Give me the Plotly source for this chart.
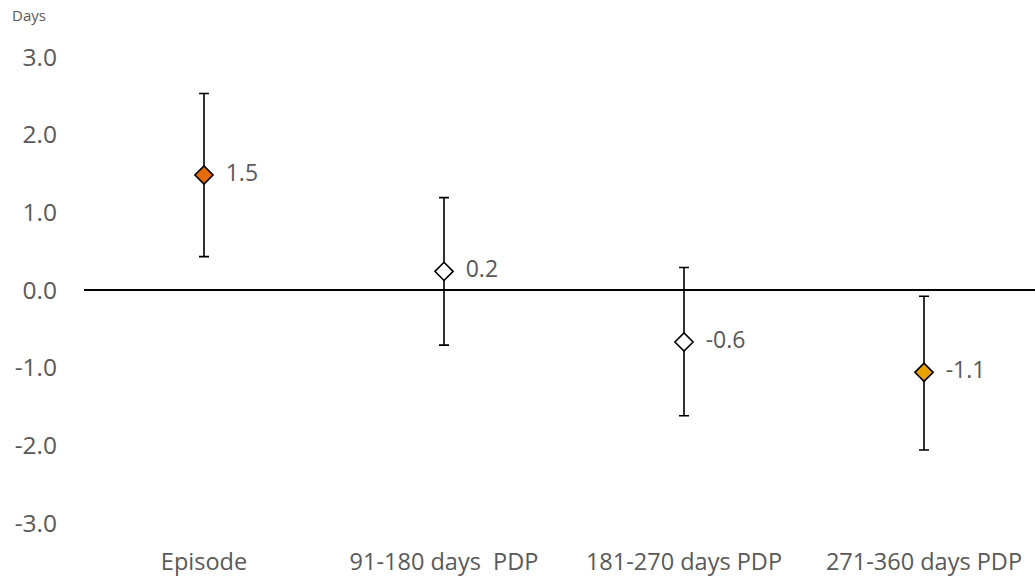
import plotly.graph_objects as go

categories = ["Episode", "91-180 days  PDP", "181-270 days PDP", "271-360 days PDP"]
values = [1.48, 0.24, -0.67, -1.06]
err_plus = [1.05, 0.95, 0.96, 0.98]
err_minus = [1.05, 0.95, 0.95, 1.0]
labels = ["1.5", "0.2", "-0.6", "-1.1"]
marker_colors = ["#E46C0A", "#FFFFFF", "#FFFFFF", "#E8A202"]
y_ticks = [3, 2, 1, 0, -1, -2, -3]
y_tick_text = ["3.0", "2.0", "1.0", "0.0", "-1.0", "-2.0", "-3.0"]

font_family = "'Open Sans', sans-serif"
gray = "#595959"

fig = go.Figure()
fig.add_trace(go.Scatter(
    x=categories, y=values, mode="markers+text",
    text=labels, textposition="middle right",
    texttemplate="  %{text}",
    textfont=dict(family=font_family, size=23, color=gray),
    marker=dict(symbol="diamond", size=14, color=marker_colors,
                line=dict(color="black", width=1.6)),
    error_y=dict(type="data", symmetric=False, array=err_plus, arrayminus=err_minus,
                 color="black", thickness=1.6, width=5),
    cliponaxis=False, showlegend=False,
))

fig.update_layout(
    width=1035, height=579,
    margin=dict(l=84, r=0, t=57, b=56),
    plot_bgcolor="white", paper_bgcolor="white",
    font=dict(family=font_family, color=gray, size=23),
    xaxis=dict(range=[-0.5, 3.4625], showgrid=False, zeroline=False, showline=False,
               ticks="", ticklabelstandoff=22, tickfont=dict(size=23.5, color=gray)),
    yaxis=dict(range=[-3.0, 3.0], tickvals=y_ticks, ticktext=y_tick_text,
               showgrid=False, zeroline=True, zerolinecolor="black", zerolinewidth=1.6,
               showline=False, ticks="", ticklabelstandoff=26,
               tickfont=dict(size=24.5, color=gray)),
    annotations=[dict(text="Days", x=0, xref="paper", xanchor="left", xshift=-74,
                      y=1, yref="paper", yanchor="bottom", yshift=30, showarrow=False,
                      font=dict(size=15, color=gray, family=font_family))],
)

fig.write_html("out.html")
